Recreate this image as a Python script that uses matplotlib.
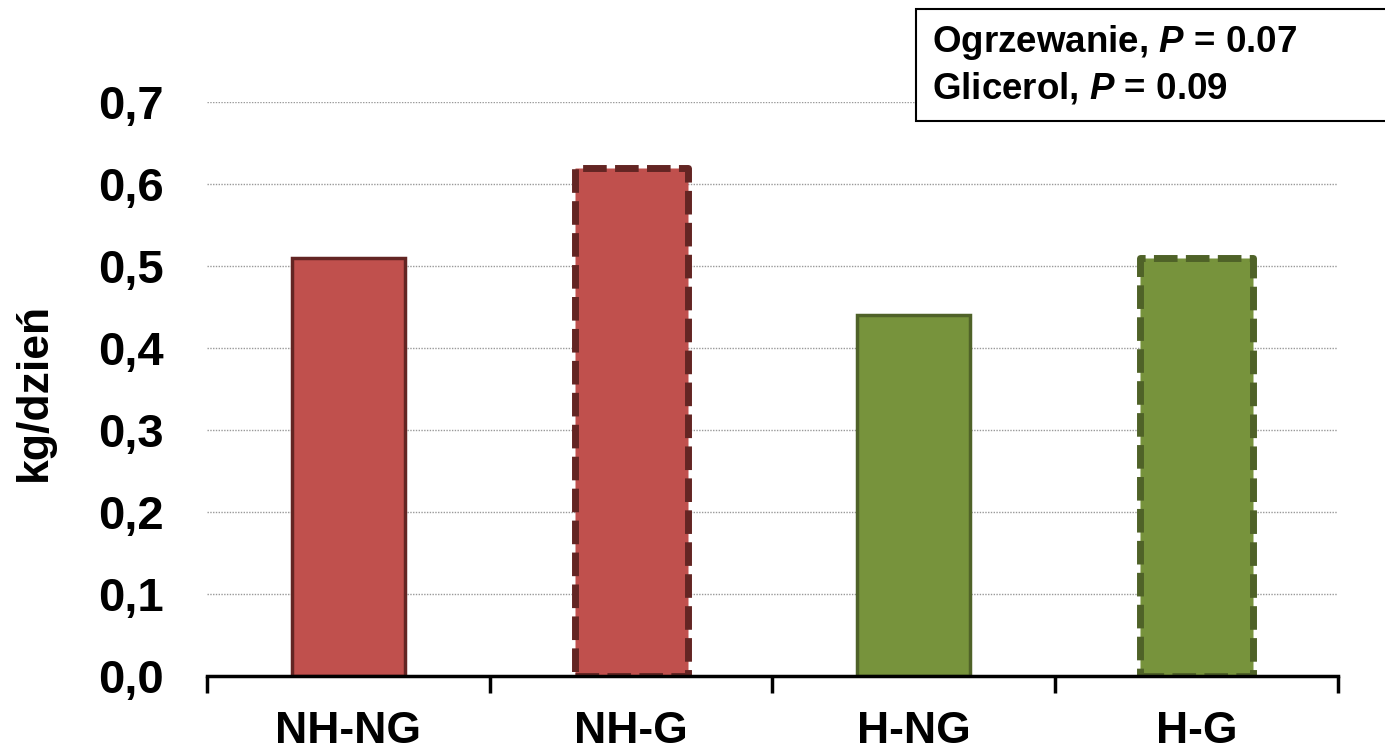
import matplotlib
matplotlib.use("Agg")
import matplotlib.pyplot as plt
from matplotlib.patches import Rectangle
import numpy as np

plt.rcParams['font.family'] = ['Liberation Sans', 'DejaVu Sans']
plt.rcParams['font.weight'] = 'bold'
plt.rcParams['mathtext.fontset'] = 'custom'
plt.rcParams['mathtext.bfit'] = 'Liberation Sans:italic:bold'

categories = ['NH-NG', 'NH-G', 'H-NG', 'H-G']
values = [0.51, 0.62, 0.44, 0.51]
fills = ['#C0504D', '#C0504D', '#77933C', '#77933C']
edges = ['#632523', '#632523', '#4F6228', '#4F6228']
dashed = [False, True, False, True]
yticks = [0.0, 0.1, 0.2, 0.3, 0.4, 0.5, 0.6, 0.7]
stats = ['Ogrzewanie, $\\mathbfit{P}$ = 0.07', 'Glicerol, $\\mathbfit{P}$ = 0.09']

fig = plt.figure(figsize=(13.85, 7.52), dpi=100)
ax = fig.add_axes([0.1495, 0.101, 0.8165, 0.763])

x = np.arange(len(categories))
for i in range(len(categories)):
    b = ax.bar(x[i], values[i], width=0.40, color=fills[i], edgecolor=edges[i],
               linewidth=5 if dashed[i] else 2.5, zorder=3)
    if dashed[i]:
        b[0].set_linestyle((0, (3.4, 1.2)))
        b[0].set_joinstyle('round')

ax.set_xlim(-0.5, len(categories) - 0.5)
ax.set_ylim(0, 0.7)
ax.set_yticks(yticks)
ax.set_yticklabels([f'{v:.1f}'.replace('.', ',') for v in yticks], fontsize=34, fontweight='bold')
ax.yaxis.grid(True, linestyle=(0, (1, 1)), color='#999999', linewidth=1, zorder=0)
ax.tick_params(axis='y', length=0, pad=31)

ax.set_xticks(x)
ax.set_xticklabels(categories, fontsize=32, fontweight='bold')
ax.tick_params(axis='x', length=0, pad=25)
ax.set_xticks(np.arange(-0.5, len(categories)), minor=True)
ax.tick_params(axis='x', which='minor', length=12, width=2.5, direction='out')

for s in ['top', 'right', 'left']:
    ax.spines[s].set_visible(False)
ax.spines['bottom'].set_linewidth(2.5)
ax.spines['bottom'].set_zorder(4)

fig.text(34 / 1385, 1 - 392 / 752, 'kg/dzień', fontsize=32, fontweight='bold',
         rotation=90, ha='center', va='center')

fig.patches.append(Rectangle((916 / 1385, 1 - 121 / 752), 0.5, 112 / 752,
                             transform=fig.transFigure, facecolor='white',
                             edgecolor='black', linewidth=1.5, zorder=5))
for j, s in enumerate(stats):
    fig.text(932 / 1385, 1 - (43 + 45 * j) / 752, s, fontsize=26.5, fontweight='bold',
             va='center', ha='left', zorder=6)

fig.savefig('out.png', dpi=100)
